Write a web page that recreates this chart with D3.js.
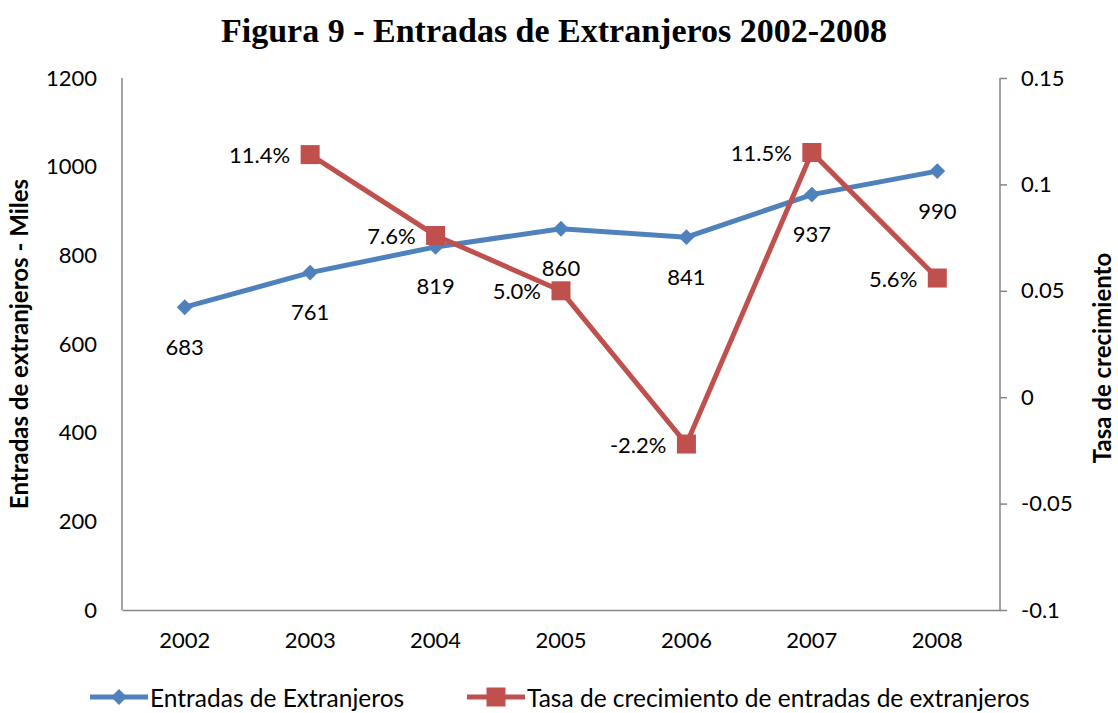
<!DOCTYPE html>
<html>
<head>
<meta charset="utf-8">
<script src="https://cdn.jsdelivr.net/npm/d3@7"></script>
<style>
  body { margin: 0; background: #fff; }
  svg text { font-family: Lato, "DejaVu Sans", sans-serif; fill: #000; }
</style>
</head>
<body>
<div id="chart"></div>
<script>
// Datos
const anios = ["2002", "2003", "2004", "2005", "2006", "2007", "2008"]
const entradas = [683, 761, 819, 860, 841, 937, 990]
const tasa = [null, 0.114, 0.076, 0.050, -0.022, 0.115, 0.056]
const ticksIzq = [0, 200, 400, 600, 800, 1000, 1200]
const ticksDer = [-0.1, -0.05, 0, 0.05, 0.1, 0.15]

const ancho = 1118, alto = 713
const margen = { top: 78, right: 118, bottom: 103, left: 122 }
const azul = "#4F81BD", rojo = "#C0504D", gris = "#868686"

// formato con guion normal
const loc = d3.formatLocale({ decimal: ".", thousands: "", grouping: [3], currency: ["", ""], minus: "-" })

const svg = d3.select("#chart").append("svg")
  .attr("width", ancho).attr("height", alto)

// Escalas
const x = d3.scaleBand().domain(anios)
  .range([margen.left, ancho - margen.right])
const y = d3.scaleLinear().domain([0, 1200])
  .range([alto - margen.bottom, margen.top])
const y2 = d3.scaleLinear().domain([-0.1, 0.15])
  .range([alto - margen.bottom, margen.top])
const cx = d => x(d) + x.bandwidth() / 2

// Titulo
svg.append("text")
  .attr("x", 554).attr("y", 42)
  .attr("text-anchor", "middle")
  .style("font-family", "'Liberation Serif', 'DejaVu Serif', serif")
  .style("font-weight", "bold")
  .style("font-size", "34px")
  .text("Figura 9 - Entradas de Extranjeros 2002-2008")

// Ejes
const ejeIzq = svg.append("g")
  .attr("transform", `translate(${margen.left},0)`)
  .call(d3.axisLeft(y).tickValues(ticksIzq).tickSize(0).tickPadding(25)
    .tickFormat(loc.format("d")))
const ejeDer = svg.append("g")
  .attr("transform", `translate(${ancho - margen.right},0)`)
  .call(d3.axisRight(y2).tickValues(ticksDer).tickSize(7).tickPadding(14)
    .tickFormat(d => loc.format("")(+d.toFixed(2))))
const ejeX = svg.append("g")
  .attr("transform", `translate(0,${alto - margen.bottom})`)
  .call(d3.axisBottom(x).tickSize(0).tickPadding(22))

for (const g of [ejeIzq, ejeDer, ejeX]) {
  g.select(".domain").attr("stroke", gris).attr("stroke-width", 1.5)
  g.selectAll(".tick line").attr("stroke", gris).attr("stroke-width", 1.5)
  g.selectAll("text").style("font-size", "22px").attr("fill", "#000")
}
ejeIzq.select(".domain").attr("d", `M0,${margen.top}V${alto - margen.bottom}`)
ejeDer.select(".domain").attr("d", `M0,${margen.top}V${alto - margen.bottom}`)

// Titulos de ejes
const medio = (margen.top + alto - margen.bottom) / 2
svg.append("text")
  .attr("transform", `translate(28,${medio}) rotate(-90)`)
  .attr("text-anchor", "middle")
  .style("font-weight", "bold").style("font-size", "24px")
  .text("Entradas de extranjeros - Miles")
svg.append("text")
  .attr("transform", `translate(1111,${medio + 14}) rotate(-90)`)
  .attr("text-anchor", "middle")
  .style("font-weight", "bold").style("font-size", "24px")
  .text("Tasa de crecimiento")

// Serie azul
const datosA = anios.map((a, i) => ({ a, v: entradas[i] }))
svg.append("path").datum(datosA)
  .attr("fill", "none").attr("stroke", azul).attr("stroke-width", 5)
  .attr("d", d3.line().x(d => cx(d.a)).y(d => y(d.v)))
svg.append("g").selectAll("path").data(datosA).join("path")
  .attr("d", d3.symbol(d3.symbolDiamond2, 160))
  .attr("transform", d => `translate(${cx(d.a)},${y(d.v)})`)
  .attr("fill", azul)

// Serie roja
const datosR = anios.map((a, i) => ({ a, v: tasa[i] })).filter(d => d.v !== null)
svg.append("path").datum(datosR)
  .attr("fill", "none").attr("stroke", rojo).attr("stroke-width", 5)
  .attr("d", d3.line().x(d => cx(d.a)).y(d => y2(d.v)))
svg.append("g").selectAll("rect").data(datosR).join("rect")
  .attr("x", d => cx(d.a) - 9.5).attr("y", d => y2(d.v) - 9.5)
  .attr("width", 19).attr("height", 19)
  .attr("fill", rojo)

// Etiquetas
svg.append("g").selectAll("text").data(datosA).join("text")
  .attr("x", d => cx(d.a)).attr("y", d => y(d.v) + 39)
  .attr("text-anchor", "middle").attr("dominant-baseline", "central")
  .style("font-size", "22px")
  .text(d => d.v)
svg.append("g").selectAll("text").data(datosR).join("text")
  .attr("x", d => cx(d.a) - 20).attr("y", d => y2(d.v))
  .attr("text-anchor", "end").attr("dominant-baseline", "central")
  .style("font-size", "22px")
  .text(d => loc.format(".1%")(d.v))

// Leyenda
const leyenda = [
  { nombre: "Entradas de Extranjeros", color: azul, x: 90, forma: "diamante" },
  { nombre: "Tasa de crecimiento de entradas de extranjeros", color: rojo, x: 467, forma: "cuadro" }
]
const ly = 697
leyenda.forEach(l => {
  const g = svg.append("g")
  g.append("line").attr("x1", l.x).attr("x2", l.x + 58)
    .attr("y1", ly).attr("y2", ly)
    .attr("stroke", l.color).attr("stroke-width", 5)
  if (l.forma === "diamante") {
    g.append("path").attr("d", d3.symbol(d3.symbolDiamond2, 160))
      .attr("transform", `translate(${l.x + 29},${ly})`).attr("fill", l.color)
  } else {
    g.append("rect").attr("x", l.x + 19.5).attr("y", ly - 9.5)
      .attr("width", 19).attr("height", 19).attr("fill", l.color)
  }
  g.append("text").attr("x", l.x + 60).attr("y", ly)
    .attr("dominant-baseline", "central").style("font-size", "24.5px")
    .text(l.nombre)
})
</script>
</body>
</html>
